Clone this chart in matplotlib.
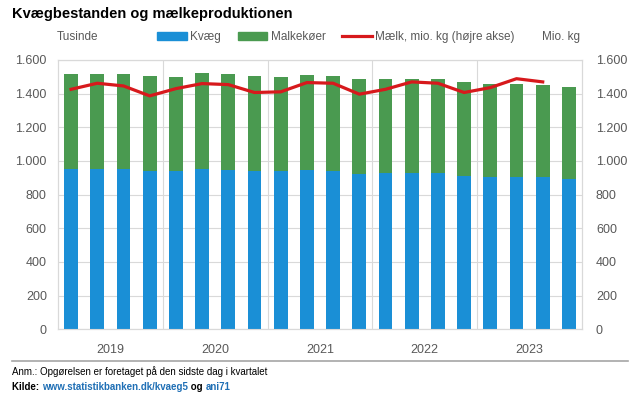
import matplotlib
matplotlib.use("Agg")
import matplotlib.pyplot as plt
from matplotlib.lines import Line2D
from matplotlib.patches import Patch
import numpy as np

# data (thousands / mio. kg), quarters 2019K1..2023K4
years = ["2019", "2020", "2021", "2022", "2023"]
kvaeg = [951, 951, 951, 941, 937, 951, 946, 937, 937, 943,
         941, 922, 926, 930, 926, 912, 902, 902, 902, 892]
malkekoer = [563, 563, 567, 563, 563, 569, 568, 567, 563, 565,
             563, 562, 558, 558, 558, 559, 557, 553, 549, 547]
maelk = [1425, 1461, 1445, 1386, 1429, 1459, 1453, 1406, 1410, 1465,
         1461, 1396, 1425, 1469, 1461, 1406, 1435, 1488, 1469, np.nan]

BLUE = "#1a8fd6"
GREEN = "#4a9a50"
RED = "#d7191c"
GREY = "#595959"
GRID = "#d9d9d9"

plt.rcParams["font.family"] = ["Liberation Sans", "DejaVu Sans"]

fig = plt.figure(figsize=(6.4, 3.99), dpi=100)
ax = fig.add_axes([0.0906, 0.175, 0.8188, 0.675])
ax2 = ax.twinx()

x = np.arange(len(kvaeg))
ax.bar(x, kvaeg, width=0.53, color=BLUE, zorder=3)
ax.bar(x, malkekoer, width=0.53, bottom=kvaeg, color=GREEN, zorder=3)
ax2.plot(x, maelk, color=RED, lw=2.3, zorder=4)

for a in (ax, ax2):
    a.set_ylim(0, 1600)
    a.set_yticks(range(0, 1601, 200))
    a.set_yticklabels(["{:,}".format(v).replace(",", ".") for v in range(0, 1601, 200)],
                      fontsize=9, color=GREY)
    a.tick_params(axis="y", length=0, pad=10)
    for s in a.spines.values():
        s.set_color(GRID)
ax.tick_params(axis="y", pad=8)
ax.set_xlim(-0.5, len(kvaeg) - 0.5)
ax.grid(axis="y", color=GRID, lw=0.8, zorder=0)
for b in range(4, len(kvaeg), 4):
    ax.axvline(b - 0.5, color=GRID, lw=0.8, zorder=1)

centers = [i * 4 + 1.5 for i in range(len(years))]
ax.set_xticks(centers)
ax.set_xticklabels(years, fontsize=9, color=GREY)
ax.tick_params(axis="x", length=0, pad=11)

fig.text(0.019, 0.965, "Kvægbestanden og mælkeproduktionen", fontsize=10.5,
         fontweight="bold", va="center", ha="left")
fig.text(0.089, 0.907, "Tusinde", fontsize=8.5, color=GREY, va="center")
fig.text(0.906, 0.907, "Mio. kg", fontsize=8.5, color=GREY, va="center", ha="right")

handles = [Patch(color=BLUE), Patch(color=GREEN), Line2D([], [], color=RED, lw=2.3)]
labels = ["Kvæg", "Malkekøer", "Mælk, mio. kg (højre akse)"]
fig.legend(handles, labels, loc="center", bbox_to_anchor=(0.525, 0.907), ncol=3,
           frameon=False, prop={"size": 8.5}, labelcolor=GREY,
           handlelength=2.5, handleheight=0.6, handletextpad=0.3, columnspacing=1.4)

fig.add_artist(Line2D([0.019, 0.981], [0.095, 0.095], color="#a6a6a6", lw=1.2))
fig.text(0.019, 0.068, "Anm.: Opgørelsen er foretaget på den sidste dag i kvartalet",
         fontsize=7, va="center")
t = fig.text(0.019, 0.030, "Kilde: ", fontsize=7, fontweight="bold", va="center")
for part, col in [("www.statistikbanken.dk/kvaeg5", "#1f6fb5"), (" og ", "black"), ("ani71", "#1f6fb5")]:
    t = ax.annotate(part, xycoords=t, xy=(1, 0), va="bottom", fontsize=7,
                    fontweight="bold", color=col)

fig.savefig("out.png", dpi=100)
